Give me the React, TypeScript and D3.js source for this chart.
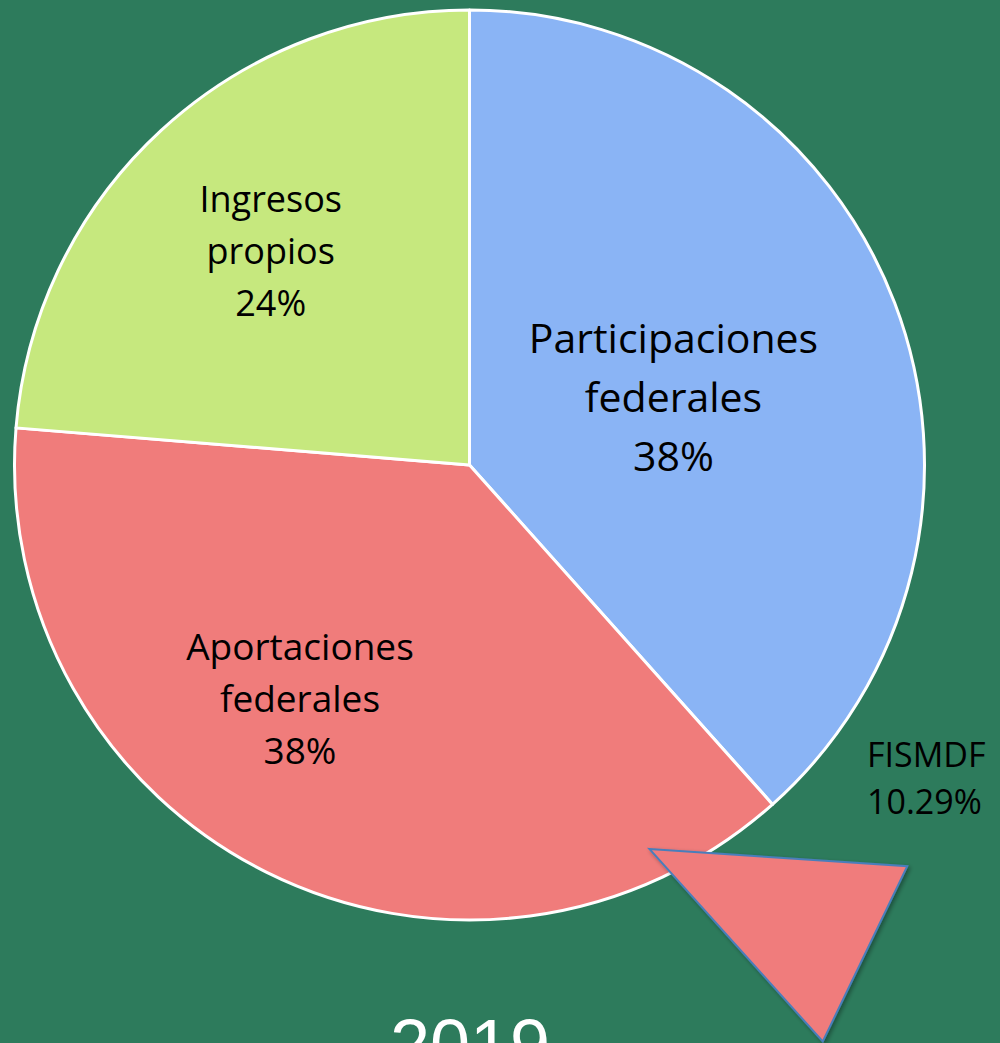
import React from "react";
import * as d3 from "d3";

const categories = ["Participaciones federales", "Aportaciones federales", "Ingresos propios"];
const labelLines = [["Participaciones", "federales"], ["Aportaciones", "federales"], ["Ingresos", "propios"]];
const values = [38.4, 37.9, 23.7];
const colors = ["#8AB4F5", "#F07C7B", "#C6E87E"];
const calloutName = "FISMDF";
const calloutValue = "10.29%";
const yearLabel = "2019";

// label placement (radius fraction, angle shift in degrees)
const labelRadius = [0.472, 0.636, 0.641];
const labelShift = [2.6, 9.4, -0.3];
const labelSize = [41, 37, 36];
const labelLead = [59, 52, 52];

// callout triangle in polar coords relative to pie: [angle deg, radius fraction]
const calloutShape: [number, number][] = [[154.9, 0.932], [132.5, 1.305], [148.5, 1.486]];

export default function App() {
  const W = 1000, H = 1043;
  const cx = 469.5, cy = 465, R = 455;
  const pie = d3.pie<number>().sort(null).value((d) => d)(values);
  const arc = d3.arc<d3.PieArcDatum<number>>().innerRadius(0).outerRadius(R);
  const rad = (deg: number) => (deg * Math.PI) / 180;
  const polar = (deg: number, r: number) => [Math.sin(rad(deg)) * r, -Math.cos(rad(deg)) * r];
  const tri = calloutShape.map(([a, f]) => polar(a, f * R));
  const triPath = d3.line()(tri as [number, number][]) + "Z";
  const font = "'Open Sans', Lato, sans-serif";

  return (
    <div style={{ position: "fixed", left: 0, top: 0, width: W, height: H, overflow: "hidden" }}>
      <svg width={W} height={H} viewBox={`0 0 ${W} ${H}`} style={{ display: "block" }}>
        <defs>
          <filter id="sh" x="-20%" y="-20%" width="140%" height="140%">
            <feDropShadow dx="2" dy="2" stdDeviation="2" floodColor="#000" floodOpacity="0.35" />
          </filter>
        </defs>
        <rect width={W} height={H} fill="#2D7B5C" />
        <g transform={`translate(${cx},${cy})`}>
          {pie.map((p, i) => (
            <path key={categories[i]} d={arc(p) || ""} fill={colors[i]} stroke="#fff" strokeWidth={3} strokeLinejoin="round" />
          ))}
          {pie.map((p, i) => {
            const mid = ((p.startAngle + p.endAngle) / 2) * 180 / Math.PI + labelShift[i];
            const [x, y] = polar(mid, labelRadius[i] * R);
            const lines = [...labelLines[i], `${Math.round(values[i])}%`];
            const lh = labelLead[i];
            return (
              <text key={"l" + i} textAnchor="middle" fontFamily={font} fontSize={labelSize[i]} fill="#000">
                {lines.map((t, j) => (
                  <tspan key={j} x={x} y={y + (j - 1) * lh} dy="0.35em">{t}</tspan>
                ))}
              </text>
            );
          })}
          <path d={triPath} fill={colors[1]} stroke="#4A7EBB" strokeWidth={2} filter="url(#sh)" />
        </g>
        <text fontFamily={font} fontSize={34} fill="#000">
          <tspan x={867} y={767}>{calloutName}</tspan>
          <tspan x={867} y={814}>{calloutValue}</tspan>
        </text>
        <text x={470} y={1070} textAnchor="middle" fontFamily="'Liberation Sans', Arial, sans-serif" fontSize={72} fill="#fff">{yearLabel}</text>
      </svg>
    </div>
  );
}
